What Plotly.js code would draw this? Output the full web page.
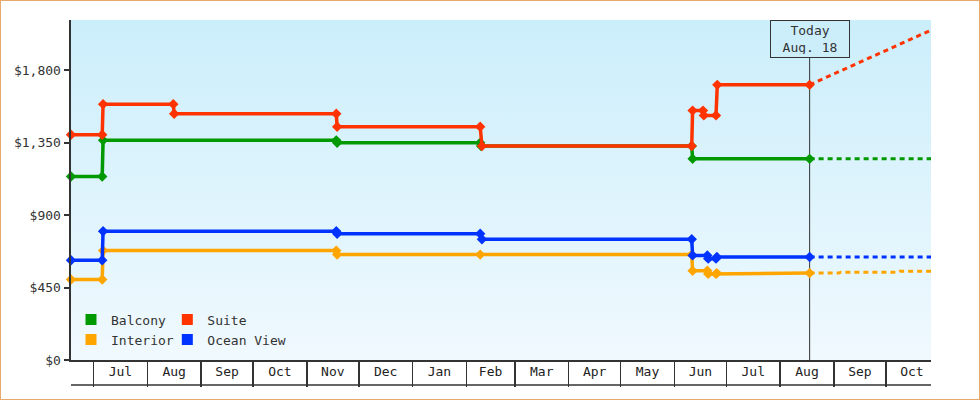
<!DOCTYPE html>
<html>
<head>
<meta charset="utf-8">
<script src="https://cdn.plot.ly/plotly-3.0.1.min.js"></script>
<style>
  body { margin: 0; background: #fff; }
  #wrap { position: relative; width: 980px; height: 400px; }
  #bg { position: absolute; left: 71px; top: 20px; width: 860px; height: 340px;
        background: linear-gradient(to bottom, #cbeefb, #f0f9fe); }
  #chart { position: absolute; left: 0; top: 0; width: 980px; height: 400px; }
  #frame { position: absolute; left: 0; top: 0; width: 980px; height: 400px;
           box-sizing: border-box; border: 1.5px solid #e8aa6a; pointer-events: none; }
</style>
</head>
<body>
<div id="wrap">
  <div id="bg"></div>
  <div id="chart"></div>
  <div id="frame"></div>
</div>
<script>
// price history per cabin type
var balconyDates = ['2022-06-18', '2022-07-06', '2022-07-06 12:00', '2022-11-18', '2022-11-18 12:00',
  '2023-02-09', '2023-02-09 12:00', '2023-06-11', '2023-06-11 12:00', '2023-08-18'];
var balconyPrices = [1140, 1140, 1365, 1365, 1350, 1350, 1330, 1330, 1250, 1250];

var suiteDates = ['2022-06-18', '2022-07-06', '2022-07-06 12:00', '2022-08-16', '2022-08-16 12:00',
  '2022-11-18', '2022-11-18 12:00', '2023-02-09', '2023-02-10', '2023-06-11', '2023-06-11 12:00',
  '2023-06-17 12:00', '2023-06-18', '2023-06-25', '2023-06-25 18:00', '2023-08-18'];
var suitePrices = [1400, 1400, 1590, 1590, 1530, 1530, 1450, 1450, 1330, 1330, 1550,
  1550, 1520, 1520, 1710, 1710];

var interiorDates = ['2022-06-18', '2022-07-06', '2022-07-06 12:00', '2022-11-18', '2022-11-18 12:00',
  '2023-02-09', '2023-06-11', '2023-06-11 12:00', '2023-06-20', '2023-06-20 12:00',
  '2023-06-25', '2023-06-25 12:00', '2023-08-18'];
var interiorPrices = [500, 500, 680, 680, 655, 655, 655, 555, 555, 535, 535, 540, 540];

var oceanDates = ['2022-06-18', '2022-07-06', '2022-07-06 12:00', '2022-11-18', '2022-11-18 12:00',
  '2023-02-09', '2023-02-10', '2023-06-11', '2023-06-11 12:00', '2023-06-20', '2023-06-20 12:00',
  '2023-06-25', '2023-06-25 12:00', '2023-08-18'];
var oceanPrices = [620, 620, 800, 800, 785, 785, 750, 750, 650, 650, 630, 630, 640, 640];

// projections after today
var balconyProjDates = ['2023-08-18', '2023-10-27'];
var balconyProj = [1250, 1250];
var suiteProjDates = ['2023-08-18', '2023-10-27'];
var suiteProj = [1710, 2050];
var interiorProjDates = ['2023-08-18', '2023-09-04', '2023-09-05', '2023-10-08', '2023-10-09', '2023-10-27'];
var interiorProj = [540, 540, 546, 546, 552, 552];
var oceanProjDates = ['2023-08-18', '2023-10-27'];
var oceanProj = [640, 640];

var names = ['Balcony', 'Suite', 'Interior', 'Ocean View'];
var colors = ['#009900', '#ff3300', '#ffa500', '#0033ff'];
var yTicks = [0, 450, 900, 1350, 1800];
var yTickLabels = ['$0', '$450', '$900', '$1,350', '$1,800'];
var today = '2023-08-18';
var todayLabel = 'Today<br>Aug. 18';

var FONT = 'DejaVu Sans Mono, monospace';

var priceHistory = [
  [balconyDates, balconyPrices],
  [suiteDates, suitePrices],
  [interiorDates, interiorPrices],
  [oceanDates, oceanPrices]
];
var projections = [
  [balconyProjDates, balconyProj],
  [suiteProjDates, suiteProj],
  [interiorProjDates, interiorProj],
  [oceanProjDates, oceanProj]
];

var data = [];
projections.forEach(function (p, i) {
  data.push({
    x: p[0], y: p[1], type: 'scatter', mode: 'lines',
    line: { color: colors[i], width: 3, dash: '5px,4px' },
    showlegend: false, hoverinfo: 'skip', cliponaxis: false
  });
});
priceHistory.forEach(function (h, i) {
  data.push({
    x: h[0], y: h[1], type: 'scatter', mode: 'lines+markers', name: names[i],
    line: { color: colors[i], width: 3.5 },
    marker: { color: colors[i], symbol: 'diamond', size: 8 },
    showlegend: false, cliponaxis: false
  });
});
// legend entries: square swatches in two columns
var legendOrder = [0, 2, 1, 3];
legendOrder.forEach(function (i) {
  data.push({
    x: [null], y: [null], type: 'scatter', mode: 'markers', name: names[i],
    marker: { color: colors[i], symbol: 'square', size: 11 },
    legend: i % 2 === 0 ? 'legend' : 'legend2'
  });
});

var legendBase = {
  orientation: 'v', xanchor: 'left', yanchor: 'top', y: 0.163,
  bgcolor: 'rgba(0,0,0,0)', font: { family: FONT, size: 13, color: '#333' },
  tracegroupgap: 0, itemclick: false
};

var layout = {
  width: 980, height: 400,
  margin: { l: 71, r: 49, t: 20, b: 40 },
  paper_bgcolor: 'rgba(0,0,0,0)',
  plot_bgcolor: 'rgba(0,0,0,0)',
  font: { family: FONT, size: 13, color: '#333' },
  xaxis: {
    type: 'date', range: ['2022-06-18', '2023-10-27'],
    showgrid: false, zeroline: false,
    showline: true, linecolor: '#333', linewidth: 1.5,
    dtick: 'M1', tick0: '2022-07-01', tickformat: '%b',
    ticklabelmode: 'period', ticks: 'outside', ticklen: 25,
    tickwidth: 1.5, tickcolor: '#333', ticklabelstandoff: -26,
    tickfont: { family: FONT, size: 13, color: '#222' }
  },
  yaxis: {
    range: [0, 2113], showgrid: false, zeroline: false,
    showline: true, linecolor: '#333', linewidth: 2.5,
    tickvals: yTicks, ticktext: yTickLabels,
    ticks: 'outside', ticklen: 5, tickwidth: 2, tickcolor: '#333',
    tickfont: { family: FONT, size: 13, color: '#333' }
  },
  legend: Object.assign({}, legendBase, { x: 0 }),
  legend2: Object.assign({}, legendBase, { x: 0.112 }),
  shapes: [
    { type: 'line', xref: 'x', yref: 'paper', x0: today, x1: today, y0: 0, y1: 1,
      line: { color: '#333', width: 1 }, layer: 'below' },
    { type: 'line', xref: 'paper', yref: 'paper', x0: 0, x1: 1, y0: -25 / 340, y1: -25 / 340,
      line: { color: '#333', width: 1.5 } }
  ],
  annotations: [
    { x: today, xref: 'x', y: 1, yref: 'paper', yanchor: 'top', xanchor: 'center',
      text: todayLabel, showarrow: false, align: 'center',
      font: { family: FONT, size: 13, color: '#333' },
      bgcolor: '#cceefb', bordercolor: '#333', borderwidth: 1, borderpad: 3,
      width: 72, height: 30 }
  ]
};

Plotly.newPlot('chart', data, layout, { displayModeBar: false, staticPlot: true });
</script>
</body>
</html>
